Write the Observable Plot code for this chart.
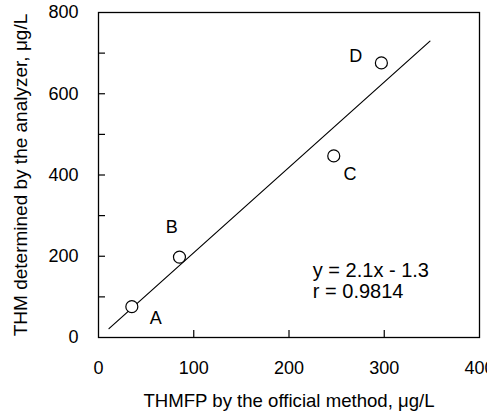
<!DOCTYPE html>
<html><head><meta charset="utf-8">
<script src="https://cdn.jsdelivr.net/npm/d3@7"></script>
<script src="https://cdn.jsdelivr.net/npm/@observablehq/plot@0.6"></script>
<style>body{margin:0;background:#fff;} svg{font-family:"Liberation Sans",Arial,sans-serif;}</style>
</head><body><div id="chart"></div>
<script>
const samples = ["A", "B", "C", "D"];
const thmfp = [35, 85, 247, 297];
const thm = [76, 198, 447, 676];
const labelX = [60, 77, 264, 270];
const labelY = [48, 272, 402, 692];
const fitX = [11, 348];
const slope = 2.1, intercept = -1.3;
const xTickVals = [100, 200, 300];
const xLabelVals = [0, 100, 200, 300, 400];
const yTickVals = [100, 200, 300, 400, 500, 600, 700];
const yLabelVals = [0, 200, 400, 600, 800];
const eqLines = ["y = 2.1x - 1.3", "r = 0.9814"];
const eqY = [165, 112];

const pts = samples.map((s, i) => ({s, x: thmfp[i], y: thm[i], lx: labelX[i], ly: labelY[i]}));
const fit = fitX.map(x => ({x, y: slope * x + intercept}));
const eq = eqLines.map((t, i) => ({t, x: 225, y: eqY[i]}));

const W = 487, H = 414, mL = 98, mR = 8, mT = 12, mB = 77;
const iw = W - mL - mR, ih = H - mT - mB;
const FS = 18;

const chart = Plot.plot({
  width: W, height: H,
  marginLeft: mL, marginRight: mR, marginTop: mT, marginBottom: mB,
  style: {fontFamily: "Liberation Sans, Arial, sans-serif", fontSize: "19px", color: "#000", background: "#fff", overflow: "visible"},
  x: {domain: [0, 400]},
  y: {domain: [0, 800]},
  marks: [
    Plot.frame({stroke: "#000", strokeWidth: 1.3}),
    Plot.tickX(xTickVals, {x: d => d, insetTop: ih - 7, stroke: "#000", strokeWidth: 1.2}),
    Plot.tickY(yTickVals, {y: d => d, insetRight: iw - 7, stroke: "#000", strokeWidth: 1.2}),
    Plot.axisX(xLabelVals, {tickSize: 0, tickPadding: 24, fontSize: FS, label: null}),
    Plot.axisY(yLabelVals, {tickSize: 0, tickPadding: 20, fontSize: FS, label: null}),
    Plot.axisX({ticks: [], tickSize: 0, fontSize: 18.6, label: "THMFP by the official method, μg/L", labelAnchor: "center", labelArrow: "none", labelOffset: 69, dx: -4}),
    Plot.axisY({ticks: [], tickSize: 0, label: "THM determined by the analyzer, μg/L", labelAnchor: "center", labelArrow: "none", labelOffset: 85}),
    Plot.line(fit, {x: "x", y: "y", stroke: "#000", strokeWidth: 1.2}),
    Plot.dot(pts, {x: "x", y: "y", r: 6, fill: "#fff", stroke: "#000", strokeWidth: 1.2}),
    Plot.text(pts, {x: "lx", y: "ly", text: "s", fontSize: FS, fill: "#000"}),
    Plot.text(eq, {x: "x", y: "y", text: "t", textAnchor: "start", fontSize: 20, fill: "#000"})
  ]
});
document.getElementById("chart").appendChild(chart);
</script></body></html>
